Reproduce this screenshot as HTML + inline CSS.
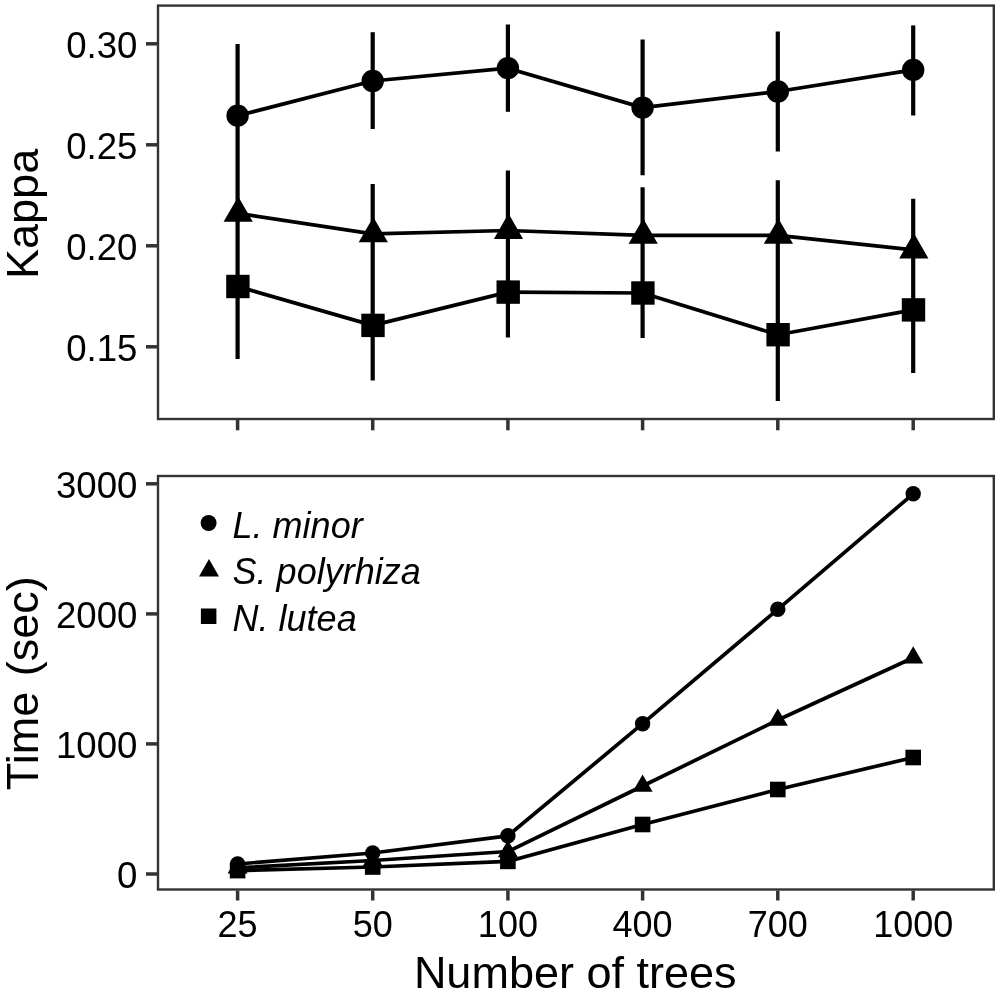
<!DOCTYPE html>
<html><head><meta charset="utf-8"><title>Kappa and time vs number of trees</title>
<style>
html,body{margin:0;padding:0;background:#fff;}
body{width:1000px;height:994px;overflow:hidden;}
svg{display:block;}
text{font-family:"Liberation Sans",Arial,Helvetica,sans-serif;fill:#000;}
.tk{font-size:36px;}
.ti{font-size:45px;}
.lg{font-size:36px;font-style:italic;}
</style></head><body>
<svg width="1000" height="994" viewBox="0 0 1000 994">
<rect width="1000" height="994" fill="#fff"/>
<g fill="none" stroke="#333" stroke-width="2.4">
<rect x="158" y="5.6" width="835.8" height="413.4"/>
<rect x="158" y="476" width="835.8" height="413.5"/>
</g>
<g stroke="#333" stroke-width="3.5">
<line x1="146" y1="43.8" x2="157" y2="43.8"/>
<line x1="146" y1="144.8" x2="157" y2="144.8"/>
<line x1="146" y1="245.8" x2="157" y2="245.8"/>
<line x1="146" y1="346.8" x2="157" y2="346.8"/>
<line x1="146" y1="483.8" x2="157" y2="483.8"/>
<line x1="146" y1="613.9" x2="157" y2="613.9"/>
<line x1="146" y1="743.9" x2="157" y2="743.9"/>
<line x1="146" y1="874" x2="157" y2="874"/>
<line x1="237.6" y1="419.9" x2="237.6" y2="430.3"/>
<line x1="237.6" y1="890.5" x2="237.6" y2="900.5"/>
<line x1="372.7" y1="419.9" x2="372.7" y2="430.3"/>
<line x1="372.7" y1="890.5" x2="372.7" y2="900.5"/>
<line x1="507.9" y1="419.9" x2="507.9" y2="430.3"/>
<line x1="507.9" y1="890.5" x2="507.9" y2="900.5"/>
<line x1="642.6" y1="419.9" x2="642.6" y2="430.3"/>
<line x1="642.6" y1="890.5" x2="642.6" y2="900.5"/>
<line x1="777.8" y1="419.9" x2="777.8" y2="430.3"/>
<line x1="777.8" y1="890.5" x2="777.8" y2="900.5"/>
<line x1="913.2" y1="419.9" x2="913.2" y2="430.3"/>
<line x1="913.2" y1="890.5" x2="913.2" y2="900.5"/>
</g>
<g class="tk" text-anchor="end" style="font-size:36.6px">
<text x="137.4" y="58.4">0.30</text>
<text x="137.4" y="159.4">0.25</text>
<text x="137.4" y="260.4">0.20</text>
<text x="137.4" y="361.4">0.15</text>
<text x="137.4" y="498.1">3000</text>
<text x="137.4" y="628.2">2000</text>
<text x="137.4" y="758.2">1000</text>
<text x="137.4" y="888.3">0</text>
</g>
<g class="tk" text-anchor="middle">
<text x="237.6" y="937">25</text>
<text x="372.7" y="937">50</text>
<text x="507.9" y="937">100</text>
<text x="642.6" y="937">400</text>
<text x="777.8" y="937">700</text>
<text x="913.2" y="937">1000</text>
</g>
<text class="ti" text-anchor="middle" x="575.2" y="988.4">Number of trees</text>
<text class="ti" text-anchor="middle" transform="translate(38.3,213.9) rotate(-90)">Kappa</text>
<text class="ti" text-anchor="middle" style="word-spacing:3px" transform="translate(38.3,683.25) rotate(-90)">Time (sec)</text>
<g stroke="#000" stroke-width="4.2">
<line x1="237.6" y1="44" x2="237.6" y2="359"/>
<line x1="372.7" y1="32.2" x2="372.7" y2="129"/>
<line x1="372.7" y1="183.9" x2="372.7" y2="380.6"/>
<line x1="507.9" y1="24.5" x2="507.9" y2="111.8"/>
<line x1="507.9" y1="170.5" x2="507.9" y2="337.5"/>
<line x1="642.6" y1="39.4" x2="642.6" y2="175.2"/>
<line x1="642.6" y1="187.3" x2="642.6" y2="338"/>
<line x1="777.8" y1="31.5" x2="777.8" y2="151.5"/>
<line x1="777.8" y1="180.3" x2="777.8" y2="401.1"/>
<line x1="913.2" y1="25.4" x2="913.2" y2="115.5"/>
<line x1="913.2" y1="198.7" x2="913.2" y2="373"/>
</g>
<polyline points="237.6,115.7 372.7,81.0 507.9,68.2 642.6,107.6 777.8,91.5 913.2,69.9" fill="none" stroke="#000" stroke-width="3.7" stroke-linejoin="round"/>
<polyline points="237.6,213.3 372.7,233.9 507.9,230.5 642.6,235.3 777.8,235.3 913.2,249.9" fill="none" stroke="#000" stroke-width="3.7" stroke-linejoin="round"/>
<polyline points="237.6,286.5 372.7,325.4 507.9,292.1 642.6,293.0 777.8,334.7 913.2,309.9" fill="none" stroke="#000" stroke-width="3.7" stroke-linejoin="round"/>
<g fill="#000">
<circle cx="237.6" cy="115.7" r="11.20"/>
<circle cx="372.7" cy="81.0" r="11.20"/>
<circle cx="507.9" cy="68.2" r="11.20"/>
<circle cx="642.6" cy="107.6" r="11.20"/>
<circle cx="777.8" cy="91.5" r="11.20"/>
<circle cx="913.2" cy="69.9" r="11.20"/>
<polygon points="238.2,196.4 252.8,221.8 223.6,221.8"/>
<polygon points="373.3,217.0 387.9,242.3 358.7,242.3"/>
<polygon points="508.5,213.6 523.1,238.9 493.9,238.9"/>
<polygon points="643.2,218.4 657.8,243.8 628.6,243.8"/>
<polygon points="778.4,218.4 793.0,243.8 763.8,243.8"/>
<polygon points="913.8,233.0 928.4,258.4 899.2,258.4"/>
<rect x="226.2" y="274.8" width="23.4" height="23.4"/>
<rect x="361.3" y="313.7" width="23.4" height="23.4"/>
<rect x="496.5" y="280.4" width="23.4" height="23.4"/>
<rect x="631.2" y="281.3" width="23.4" height="23.4"/>
<rect x="766.4" y="323.0" width="23.4" height="23.4"/>
<rect x="901.8" y="298.2" width="23.4" height="23.4"/>
</g>
<polyline points="237.6,864.0 372.7,853.0 507.9,835.8 642.6,723.7 777.8,609.3 913.2,493.8" fill="none" stroke="#000" stroke-width="3.7" stroke-linejoin="round"/>
<polyline points="237.6,867.8 372.7,860.5 507.9,851.5 642.6,786.0 777.8,720.0 913.2,657.8" fill="none" stroke="#000" stroke-width="3.7" stroke-linejoin="round"/>
<polyline points="237.6,870.6 372.7,867.0 507.9,861.4 642.6,824.5 777.8,789.5 913.2,757.5" fill="none" stroke="#000" stroke-width="3.7" stroke-linejoin="round"/>
<g fill="#000">
<circle cx="237.6" cy="864.0" r="7.70"/>
<circle cx="372.7" cy="853.0" r="7.70"/>
<circle cx="507.9" cy="835.8" r="7.70"/>
<circle cx="642.6" cy="723.7" r="7.70"/>
<circle cx="777.8" cy="609.3" r="7.70"/>
<circle cx="913.2" cy="493.8" r="7.70"/>
<polygon points="237.6,856.3 247.6,873.5 227.6,873.5"/>
<polygon points="372.7,849.0 382.7,866.2 362.7,866.2"/>
<polygon points="507.9,840.0 517.9,857.2 497.9,857.2"/>
<polygon points="642.6,774.5 652.6,791.8 632.6,791.8"/>
<polygon points="777.8,708.5 787.8,725.8 767.8,725.8"/>
<polygon points="913.2,646.3 923.2,663.5 903.2,663.5"/>
<rect x="229.8" y="862.8" width="15.6" height="15.6"/>
<rect x="364.9" y="859.2" width="15.6" height="15.6"/>
<rect x="500.1" y="853.6" width="15.6" height="15.6"/>
<rect x="634.8" y="816.7" width="15.6" height="15.6"/>
<rect x="770.0" y="781.7" width="15.6" height="15.6"/>
<rect x="905.4" y="749.7" width="15.6" height="15.6"/>
<circle cx="208.6" cy="523.0" r="8.00"/>
<polygon points="209.0,559.1 219.0,576.4 199.0,576.4"/>
<rect x="200.9" y="608.5" width="15.5" height="15.5"/>
</g>
<g class="lg">
<text x="232.6" y="537.7">L. minor</text>
<text x="232.6" y="584.2">S. polyrhiza</text>
<text x="232.6" y="630.7">N. lutea</text>
</g>
</svg></body></html>
